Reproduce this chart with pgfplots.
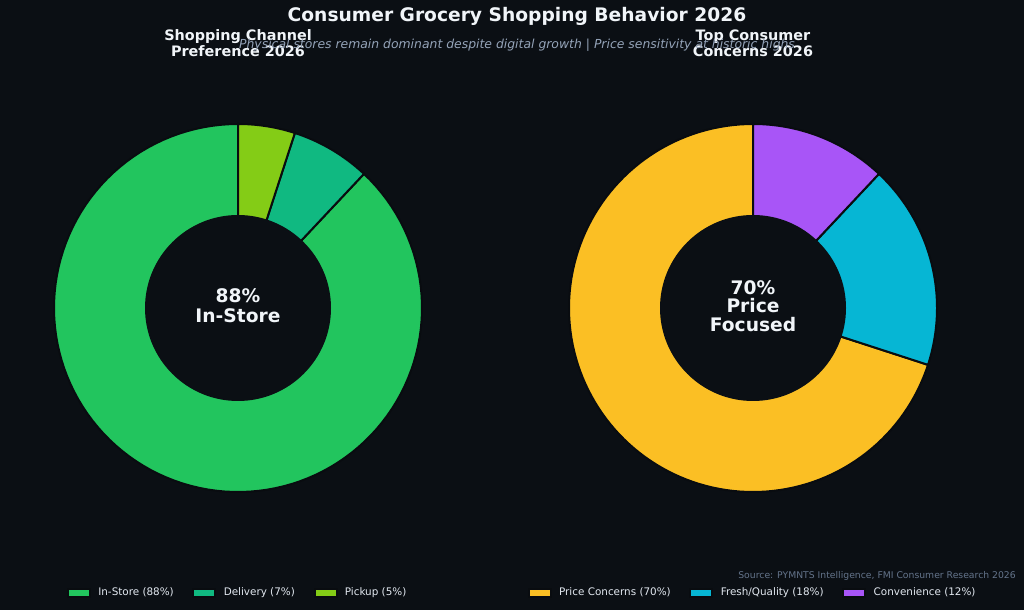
\documentclass[border=0pt]{standalone}
\usepackage{pgfplots}
\pgfplotsset{compat=1.18}
\usepackage{pgfplotstable}
\usepackage{fontspec}
\setmainfont{DejaVu Sans}

\definecolor{bg}{HTML}{0B0F14}
\definecolor{edge}{HTML}{090C10}
\definecolor{instore}{HTML}{22C55E}
\definecolor{delivery}{HTML}{10B981}
\definecolor{pickup}{HTML}{84CC16}
\definecolor{price}{HTML}{FBBF24}
\definecolor{fresh}{HTML}{06B6D4}
\definecolor{conv}{HTML}{A855F7}
\definecolor{titletext}{HTML}{F1F5F9}
\definecolor{subtext}{HTML}{94A3B8}
\definecolor{sourcetext}{HTML}{64748B}
\definecolor{legtext}{HTML}{E2E8F0}

% shares in percent, in plotting order
\pgfplotstableread{
label share
InStore 88
Delivery 7
Pickup 5
}\channel
\pgfplotstableread{
label share
Price 70
Fresh 18
Convenience 12
}\concerns

\pgfplotstablegetelem{0}{share}\of\channel \let\chA\pgfplotsretval
\pgfplotstablegetelem{1}{share}\of\channel \let\chB\pgfplotsretval
\pgfplotstablegetelem{2}{share}\of\channel \let\chC\pgfplotsretval
\pgfplotstablegetelem{0}{share}\of\concerns \let\coA\pgfplotsretval
\pgfplotstablegetelem{1}{share}\of\concerns \let\coB\pgfplotsretval
\pgfplotstablegetelem{2}{share}\of\concerns \let\coC\pgfplotsretval

% cumulative angles, counter-clockwise from 12 o'clock
\pgfmathsetmacro\chAa{90+3.6*\chA}
\pgfmathsetmacro\chBb{\chAa+3.6*\chB}
\pgfmathsetmacro\chCc{\chBb+3.6*\chC}
\pgfmathsetmacro\coAa{90+3.6*\coA}
\pgfmathsetmacro\coBb{\coAa+3.6*\coB}
\pgfmathsetmacro\coCc{\coBb+3.6*\coC}

\def\Rout{184}
\def\Rin{93}

\pgfplotsset{
  donut/.style={
    hide axis, clip=false,
    x=0.75pt, y=0.75pt,
    xmin=-200, xmax=200, ymin=-200, ymax=200,
    anchor=center,
    legend columns=3,
    legend style={
      at={(0.5,-0.2125)}, anchor=center,
      draw=none, fill=none, text=legtext,
      font=\fontsize{7.8}{9}\selectfont,
      /tikz/every odd column/.append style={column sep=3.5pt},
      /tikz/every even column/.append style={column sep=12pt},
    },
    legend image code/.code={\fill[##1] (0pt,-3pt) rectangle (16.5pt,3pt);},
  },
  wedge/.style={draw=edge, line width=1.5pt, samples=120, variable=\t},
}

\begin{document}
\begin{tikzpicture}[x=0.75pt, y=0.75pt]
\fill[bg] (0,0) rectangle (1024,610);

\node[text=titletext, font=\fontsize{14}{16}\bfseries\selectfont] at (517,594) {Consumer Grocery Shopping Behavior 2026};

\begin{axis}[donut, at={(238,302)}]
\addplot[wedge, fill=instore, domain=90:\chAa] ({\Rout*cos(t)},{\Rout*sin(t)}) -- (axis cs:0,0) -- cycle;
\addlegendentry{In-Store (88\%)}
\addplot[wedge, fill=delivery, domain=\chAa:\chBb] ({\Rout*cos(t)},{\Rout*sin(t)}) -- (axis cs:0,0) -- cycle;
\addlegendentry{Delivery (7\%)}
\addplot[wedge, fill=pickup, domain=\chBb:\chCc] ({\Rout*cos(t)},{\Rout*sin(t)}) -- (axis cs:0,0) -- cycle;
\addlegendentry{Pickup (5\%)}
\fill[bg] (axis cs:0,0) circle[radius=\Rin];
\node[text=titletext, align=center, font=\fontsize{14}{15}\bfseries\selectfont] at (axis cs:0,2) {88\%\\In-Store};
\end{axis}

\begin{axis}[donut, at={(753,302)}]
\addplot[wedge, fill=price, domain=90:\coAa] ({\Rout*cos(t)},{\Rout*sin(t)}) -- (axis cs:0,0) -- cycle;
\addlegendentry{Price Concerns (70\%)}
\addplot[wedge, fill=fresh, domain=\coAa:\coBb] ({\Rout*cos(t)},{\Rout*sin(t)}) -- (axis cs:0,0) -- cycle;
\addlegendentry{Fresh/Quality (18\%)}
\addplot[wedge, fill=conv, domain=\coBb:\coCc] ({\Rout*cos(t)},{\Rout*sin(t)}) -- (axis cs:0,0) -- cycle;
\addlegendentry{Convenience (12\%)}
\fill[bg] (axis cs:0,0) circle[radius=\Rin];
\node[text=titletext, align=center, font=\fontsize{14}{14}\bfseries\selectfont] at (axis cs:0,2) {70\%\\Price\\Focused};
\end{axis}

\node[text=titletext, align=center, font=\fontsize{10.8}{12}\bfseries\selectfont] at (238,567) {Shopping Channel\\Preference 2026};
\node[text=titletext, align=center, font=\fontsize{10.8}{12}\bfseries\selectfont] at (753,567) {Top Consumer\\Concerns 2026};
\node[text=subtext, font=\fontsize{9.3}{11}\itshape\selectfont] at (517,565) {Physical stores remain dominant despite digital growth | Price sensitivity at historic highs};

\node[text=sourcetext, anchor=east, font=\fontsize{6.95}{8}\selectfont, inner sep=0pt] at (1016,34) {Source: PYMNTS Intelligence, FMI Consumer Research 2026};
\end{tikzpicture}
\end{document}
